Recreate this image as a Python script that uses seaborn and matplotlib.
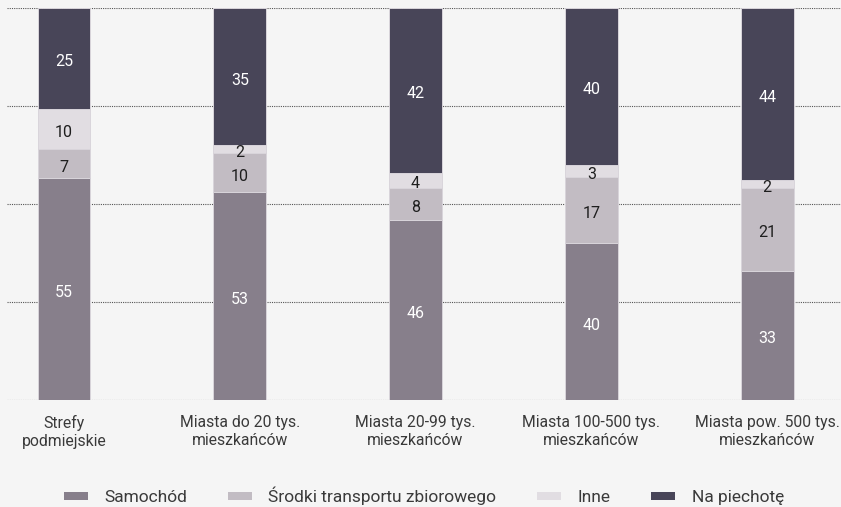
import numpy as np
import pandas as pd
import matplotlib
matplotlib.use("Agg")
import matplotlib.pyplot as plt
from matplotlib.patches import Patch
import seaborn as sns

categories = [
    "Strefy\npodmiejskie",
    "Miasta do 20 tys.\nmieszkańców",
    "Miasta 20-99 tys.\nmieszkańców",
    "Miasta 100-500 tys.\nmieszkańców",
    "Miasta pow. 500 tys.\nmieszkańców",
]
series_names = ["Samochód", "Środki transportu zbiorowego", "Inne", "Na piechotę"]
samochod = [55, 53, 46, 40, 33]
srodki = [7, 10, 8, 17, 21]
inne = [10, 2, 4, 3, 2]
na_piechote = [25, 35, 42, 40, 44]

colors = ["#877f8b", "#c2bcc3", "#e1dde2", "#484558"]
text_colors = ["white", "#1e1e1e", "#1e1e1e", "white"]
bg = "#f5f5f5"

sns.set_theme(style="white")
plt.rcParams["font.family"] = ["Roboto", "DejaVu Sans"]

values = np.array([samochod, srodki, inne, na_piechote], dtype=float)
shares = values / values.sum(axis=0) * 100.0
tops = np.cumsum(shares, axis=0)
bottoms = tops - shares

fig = plt.figure(figsize=(8.41, 5.07), dpi=100, facecolor=bg)
ax = fig.add_axes([7 / 841, 1 - 400 / 507, 1 - 7 / 841, 392 / 507])
ax.set_facecolor(bg)

# stacked bars: draw the cumulative totals from the top series down
for i in range(len(series_names) - 1, -1, -1):
    df = pd.DataFrame({"cat": categories, "top": tops[i]})
    sns.barplot(data=df, x="cat", y="top", color=colors[i], width=0.3,
                saturation=1, edgecolor="#d9d5db", linewidth=0.7, ax=ax,
                zorder=2)

for i in range(len(series_names)):
    for j in range(len(categories)):
        y = (bottoms[i, j] + tops[i, j]) / 2
        ax.annotate(f"{int(values[i, j])}", (j, y), xytext=(0, -2.5),
                    textcoords="offset points", ha="center", va="center",
                    color=text_colors[i], fontsize=11.5, zorder=4)

ax.set_ylim(0, 100)
ax.set_xlim(-0.324, 4.42)
ax.set_yticks([0, 25, 50, 75, 100])
ax.set_yticklabels([])
ax.yaxis.grid(True, linestyle=(0, (1, 1)), color="#555555", linewidth=0.8)
ax.set_axisbelow(True)
for s in ax.spines.values():
    s.set_visible(False)
ax.set_xlabel("")
ax.set_ylabel("")
ax.tick_params(axis="x", length=0, pad=11, labelsize=11.3, labelcolor="#3a3a3a")
ax.tick_params(axis="y", length=0)
for lbl in ax.get_xticklabels():
    lbl.set_linespacing(1.25)

handles = [Patch(facecolor=c, edgecolor="none") for c in colors]
fig.legend(handles, series_names, loc="center", bbox_to_anchor=(0.504, 1 - 496 / 507),
           ncol=4, frameon=False, fontsize=12.5, handlelength=1.38, handleheight=0.4,
           handletextpad=0.95, columnspacing=2.35, labelcolor="#3a3a3a",
           borderpad=0, borderaxespad=0)

fig.savefig("out.png", dpi=100, facecolor=bg)
